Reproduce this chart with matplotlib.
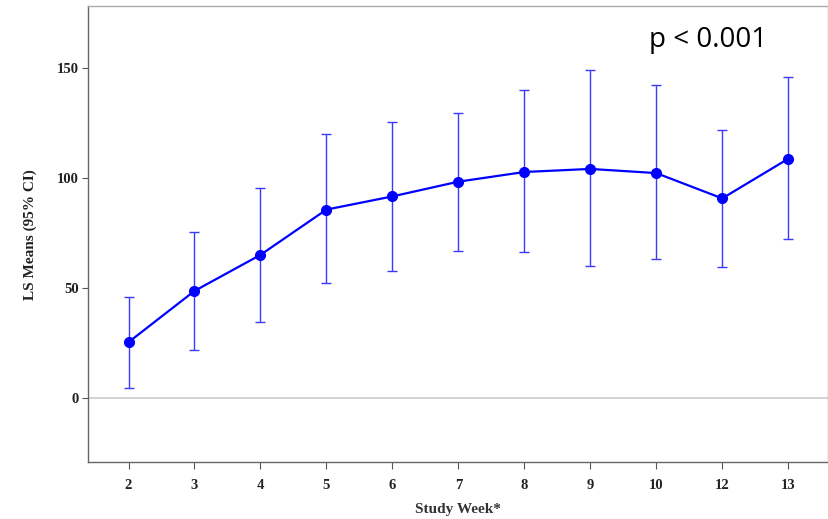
import numpy as np
import matplotlib
matplotlib.use("Agg")
from matplotlib import pyplot as plt

# Study weeks and LS means with 95% CI
weeks = ['2', '3', '4', '5', '6', '7', '8', '9', '10', '12', '13']
ls_means = [25.2, 48.5, 64.9, 85.5, 91.5, 98.2, 102.6, 104.0, 102.1, 90.6, 108.6]
ci_upper = [45.9, 75.3, 95.5, 119.7, 125.3, 129.3, 139.7, 149.0, 142.0, 121.7, 145.8]
ci_lower = [4.3, 21.5, 34.4, 52.1, 57.6, 66.8, 66.2, 59.7, 63.0, 59.3, 72.1]
y_ticks = [0, 50, 100, 150]

serif = ['Liberation Serif', 'DejaVu Serif']

fig = plt.figure(figsize=(8.29, 5.19), dpi=100)
ax = fig.add_axes([0.1065, 0.109, 0.892, 0.879])

x = np.arange(len(weeks))
means = np.array(ls_means)
err = [means - np.array(ci_lower), np.array(ci_upper) - means]

# zero reference line
ax.axhline(0, color='#cccccc', lw=1.2, zorder=1)

ax.errorbar(x, means, yerr=err, fmt='none', ecolor='#3a3aff', elinewidth=1.0,
            capsize=3.5, capthick=1.0, zorder=2)
ax.plot(x, means, '-o', color='#0000ff', lw=1.6, markersize=7, zorder=3)

ax.set_xlim(-0.61, 10.6)
ax.set_ylim(-29.5, 178)
ax.set_xticks(x)
ax.set_xticklabels(weeks)
ax.set_yticks(y_ticks)

for lab in ax.get_xticklabels() + ax.get_yticklabels():
    lab.set_family(serif)
    lab.set_fontweight('bold')
    lab.set_fontsize(10.5)
    lab.set_color('#222222')

ax.tick_params(axis='x', length=5, width=0.8, color='#555555', pad=7)
ax.tick_params(axis='y', length=4, width=0.8, color='#555555', pad=3)

ax.spines['left'].set_color('#666666')
ax.spines['bottom'].set_color('#666666')
ax.spines['top'].set_color('#aaaaaa')
ax.spines['right'].set_color('#aaaaaa')
for s in ax.spines.values():
    s.set_linewidth(1.0)

ax.set_xlabel('Study Week*', family=serif, fontweight='bold', fontsize=11,
              color='#333333', labelpad=8)
ax.set_ylabel('LS Means (95% CI)', family=serif, fontweight='bold', fontsize=11,
              color='#222222', labelpad=14)

ax.text(0.838, 0.927, 'p < 0.001', transform=ax.transAxes, fontsize=20,
        family=['Open Sans', 'DejaVu Sans'], ha='center', va='center', color='black')

fig.savefig('out.png', dpi=100)
